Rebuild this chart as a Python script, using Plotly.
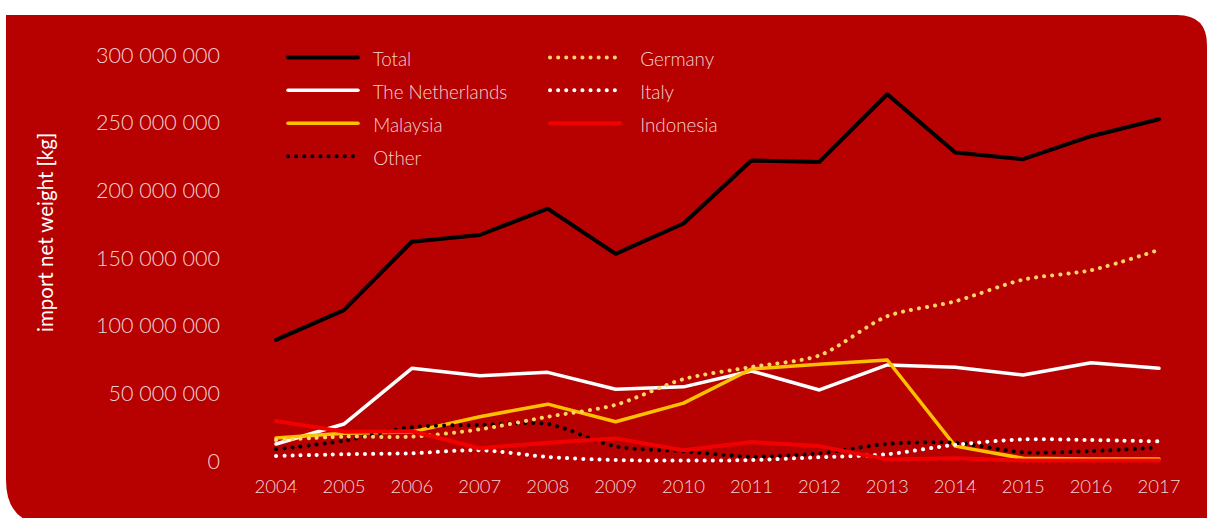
import plotly.graph_objects as go

# Annual import net weight [kg] by country of origin
years = list(range(2004, 2018))

total = [89.5e6, 111.5e6, 162e6, 167e6, 186.5e6, 153e6, 175.5e6, 222e6, 221e6, 271e6, 228e6, 223e6, 240e6, 252.5e6]
netherlands = [12.6e6, 27.3e6, 68.5e6, 63e6, 65.5e6, 53e6, 54.8e6, 66.5e6, 52.5e6, 71e6, 69.2e6, 63.5e6, 72.6e6, 68.5e6]
malaysia = [17e6, 20.5e6, 21.5e6, 32.7e6, 42e6, 29e6, 42.8e6, 68e6, 71.5e6, 74.6e6, 11e6, 2e6, 1.5e6, 1.5e6]
other = [8.6e6, 15e6, 25e6, 26.6e6, 27.3e6, 10.8e6, 7.2e6, 3.2e6, 5.7e6, 12.6e6, 13.5e6, 6.4e6, 7.4e6, 10e6]
germany = [15.5e6, 18e6, 18e6, 23.4e6, 32.7e6, 41.5e6, 60.5e6, 69.5e6, 78e6, 107e6, 118e6, 134e6, 141e6, 156e6]
italy = [3.7e6, 5e6, 5.7e6, 8e6, 3e6, 0.7e6, 0.3e6, 0.7e6, 2.8e6, 5e6, 12e6, 16e6, 15.5e6, 14.5e6]
indonesia = [29.5e6, 21.7e6, 22e6, 9.4e6, 13.5e6, 16.7e6, 8e6, 14e6, 11e6, 1.2e6, 2e6, 0.3e6, 0.3e6, 0.3e6]

y_ticks = [0, 50e6, 100e6, 150e6, 200e6, 250e6, 300e6]
y_tick_labels = ["0", "50 000 000", "100 000 000", "150 000 000", "200 000 000", "250 000 000", "300 000 000"]

BG = "rgb(183,0,0)"
TXT = "rgba(255,255,255,0.84)"
FONT = "Lato"
DOTS = "0.1px,8px"

# name, values, colour, width, dash, smooth, legend
series = [
    ("Total", total, "#000000", 4, "solid", False, "legend"),
    ("The Netherlands", netherlands, "#FFFFFF", 3.5, "solid", False, "legend"),
    ("Malaysia", malaysia, "#FFC000", 3.5, "solid", False, "legend"),
    ("Other", other, "#000000", 4, DOTS, True, "legend"),
    ("Germany", germany, "#FFD466", 4, DOTS, True, "legend2"),
    ("Italy", italy, "#FFFFFF", 4, DOTS, True, "legend2"),
    ("Indonesia", indonesia, "#F20000", 4, "solid", False, "legend2"),
]

# leading gap between the legend sample line and its label, per legend column
label_gap = {"legend": "&nbsp;&nbsp;", "legend2": "&nbsp;&nbsp;&nbsp;"}

fig = go.Figure()
for name, vals, color, width, dash, smooth, leg in series:
    fig.add_trace(go.Scatter(
        x=years, y=vals, mode="lines",
        name='<span style="font-size:18.8px">%s%s</span>' % (label_gap[leg], name),
        line=dict(color=color, width=width, dash=dash,
                  shape="spline" if smooth else "linear", smoothing=0.8),
        legend=leg, hoverinfo="skip",
    ))

L, R, T, B = 246, 18, 45, 47
W, H = 1207, 518
PW, PH = W - L - R, H - T - B


def px(x):
    return (x - L) / PW


def py(y):
    return (H - B - y) / PH


# rounded red panel behind the chart
panel = (
    f"M {px(6)},{py(15)} L {px(1177)},{py(15)} "
    f"Q {px(1207)},{py(15)} {px(1207)},{py(45)} "
    f"L {px(1207)},{py(530)} L {px(51)},{py(525)} "
    f"Q {px(6)},{py(525)} {px(6)},{py(480)} Z"
)

year_px = (1159 - 276) / 13
pad_x = 30 / year_px
val_per_px = 300e6 / 406

legend_common = dict(
    orientation="v", bgcolor="rgba(0,0,0,0)", borderwidth=0,
    font=dict(family=FONT, size=23, color=TXT, weight=300),
    itemwidth=70, xanchor="left", yanchor="top", itemclick=False,
)

fig.update_layout(
    width=W, height=H,
    margin=dict(l=L, r=R, t=T, b=B),
    paper_bgcolor="white", plot_bgcolor="rgba(0,0,0,0)",
    font=dict(family=FONT, color=TXT, size=18, weight=300),
    shapes=[dict(type="path", path=panel, xref="paper", yref="paper",
                 fillcolor=BG, line=dict(width=0), layer="below")],
    legend=dict(x=px(283), y=py(36), **legend_common),
    legend2=dict(x=px(545), y=py(36), **legend_common),
    xaxis=dict(range=[2004 - pad_x, 2017 + pad_x], tickmode="array", tickvals=years,
               ticktext=[str(y) for y in years], showgrid=False, zeroline=False,
               showline=False, ticks="", ticklabelstandoff=2,
               tickfont=dict(size=18.5, color=TXT, weight=300)),
    yaxis=dict(range=[-10 * val_per_px, 300e6 + 10 * val_per_px], tickmode="array",
               tickvals=y_ticks, ticktext=y_tick_labels, showgrid=False, zeroline=False,
               showline=False, ticks="", ticklabelstandoff=25,
               tickfont=dict(size=21.5, color=TXT, weight=300)),
    annotations=[dict(text="import net weight [kg]", textangle=-90, xref="paper", yref="paper",
                      x=px(45), y=py(233), showarrow=False, xanchor="center", yanchor="middle",
                      font=dict(family=FONT, size=20.5, color="white", weight=400))],
)

css = ("var s=document.createElement('style');"
       "s.textContent='.js-line{stroke-linecap:round;stroke-linejoin:round}';"
       "document.head.appendChild(s);")
fig.write_html("out.html", post_script=css)
